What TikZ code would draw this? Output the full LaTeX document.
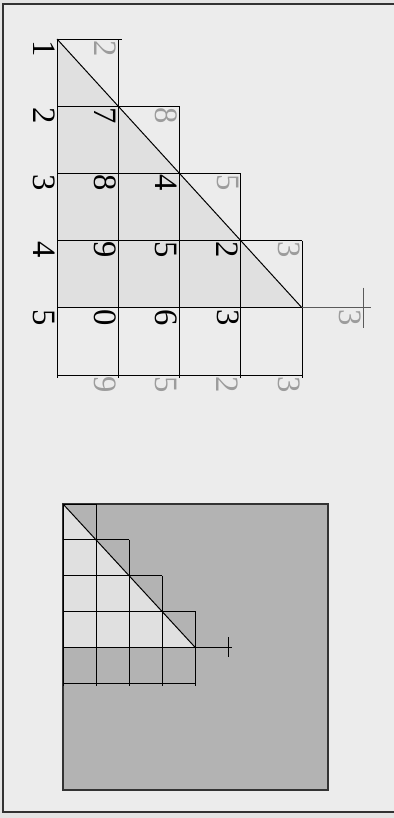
\documentclass[tikz,border=0pt]{standalone}
\usepackage{fontspec}
\setmainfont{Liberation Serif}
\definecolor{outerbg}{HTML}{E4E4E4}
\definecolor{bg}{HTML}{ECECEC}
\definecolor{lite}{HTML}{E0E0E0}
\definecolor{dark}{HTML}{B3B3B3}
\definecolor{gdig}{HTML}{9C9C9C}
\definecolor{gline}{HTML}{5A5A5A}
\definecolor{framec}{HTML}{333333}
\begin{document}
\begin{tikzpicture}[x=0.75pt,y=-0.75pt,
  gl/.style={draw=black,line width=0.75pt},
  extl/.style={draw=gline,line width=0.9pt},
  bd/.style={rotate=-90,inner sep=0pt,text=black,font=\fontsize{24.5}{28}\selectfont},
  gd/.style={rotate=-90,inner sep=0pt,text=gdig,font=\fontsize{24.5}{28}\selectfont}]
\useasboundingbox (0,0) rectangle (393,818);
\fill[outerbg] (-6,-6) rectangle (400,825);
\fill[bg] (3,4) rectangle (400,812);
\draw[draw=framec,line width=1pt] (400,4) -- (3,4) -- (3,812) -- (400,812);
% ---------- upper lattice ----------
\begin{scope}[shift={(57,39)},x=45.9375pt,y=-50.4pt]
  \fill[lite] (0,0) -- (4,4) -- (0,4) -- cycle;
  \draw[gl] (0,0) -- (1.06,0);
  \draw[gl] (0,1) -- (2,1);
  \draw[gl] (0,2) -- (3,2);
  \draw[gl] (0,3) -- (4,3);
  \draw[gl] (0,4) -- (4,4);
  \draw[gl] (0,5) -- (4,5);
  \draw[gl] (0,0) -- (0,5.05);
  \foreach \j in {1,2,3,4} \draw[gl] (\j,\j-1) -- (\j,5.05);
  \draw[gl] (0,0) -- (4,4);
  \draw[extl] (4,4) -- (5.12,4);
  \draw[extl] (5,3.7) -- (5,4.3);
  % black digits
  \node[bd] (a00) at (-0.212,0.141) {1};
  \node[bd] (a10) at (-0.212,1.141) {2};
  \node[bd] (a11) at (0.788,1.141) {7};
  \node[bd] (a20) at (-0.212,2.141) {3};
  \node[bd] (a21) at (0.788,2.141) {8};
  \node[bd] (a22) at (1.788,2.141) {4};
  \node[bd] (a30) at (-0.212,3.141) {4};
  \node[bd] (a31) at (0.788,3.141) {9};
  \node[bd] (a32) at (1.788,3.141) {5};
  \node[bd] (a33) at (2.788,3.141) {2};
  \node[bd] (a40) at (-0.212,4.141) {5};
  \node[bd] (a41) at (0.788,4.141) {0};
  \node[bd] (a42) at (1.788,4.141) {6};
  \node[bd] (a43) at (2.788,4.141) {3};
  % gray diagonal digits
  \node[gd] (g0) at (0.788,0.141) {2};
  \node[gd] (g1) at (1.788,1.141) {8};
  \node[gd] (g2) at (2.788,2.141) {5};
  \node[gd] (g3) at (3.788,3.141) {3};
  \node[gd] (g4) at (4.788,4.141) {3};
  % gray bottom digits
  \node[gd] (b1) at (0.788,5.141) {9};
  \node[gd] (b2) at (1.788,5.141) {5};
  \node[gd] (b3) at (2.788,5.141) {2};
  \node[gd] (b4) at (3.788,5.141) {3};
\end{scope}
% ---------- lower miniature ----------
\path[fill=dark,draw=framec,line width=0.9pt] (63,504) rectangle (328,790);
\begin{scope}[shift={(63,504)},x=24.75pt,y=-26.85pt]
  \fill[lite] (0,0) -- (4,4) -- (0,4) -- cycle;
  \draw[gl] (0,0) -- (1,0);
  \draw[gl] (0,1) -- (2,1);
  \draw[gl] (0,2) -- (3,2);
  \draw[gl] (0,3) -- (4,3);
  \draw[gl] (0,4) -- (5.13,4);
  \draw[gl] (0,5) -- (4,5);
  \draw[gl] (0,0) -- (0,5.08);
  \foreach \j in {1,2,3,4} \draw[gl] (\j,\j-1) -- (\j,5.08);
  \draw[gl] (0,0) -- (4,4);
  \draw[gl] (5,3.72) -- (5,4.28);
\end{scope}
\end{tikzpicture}
\end{document}
